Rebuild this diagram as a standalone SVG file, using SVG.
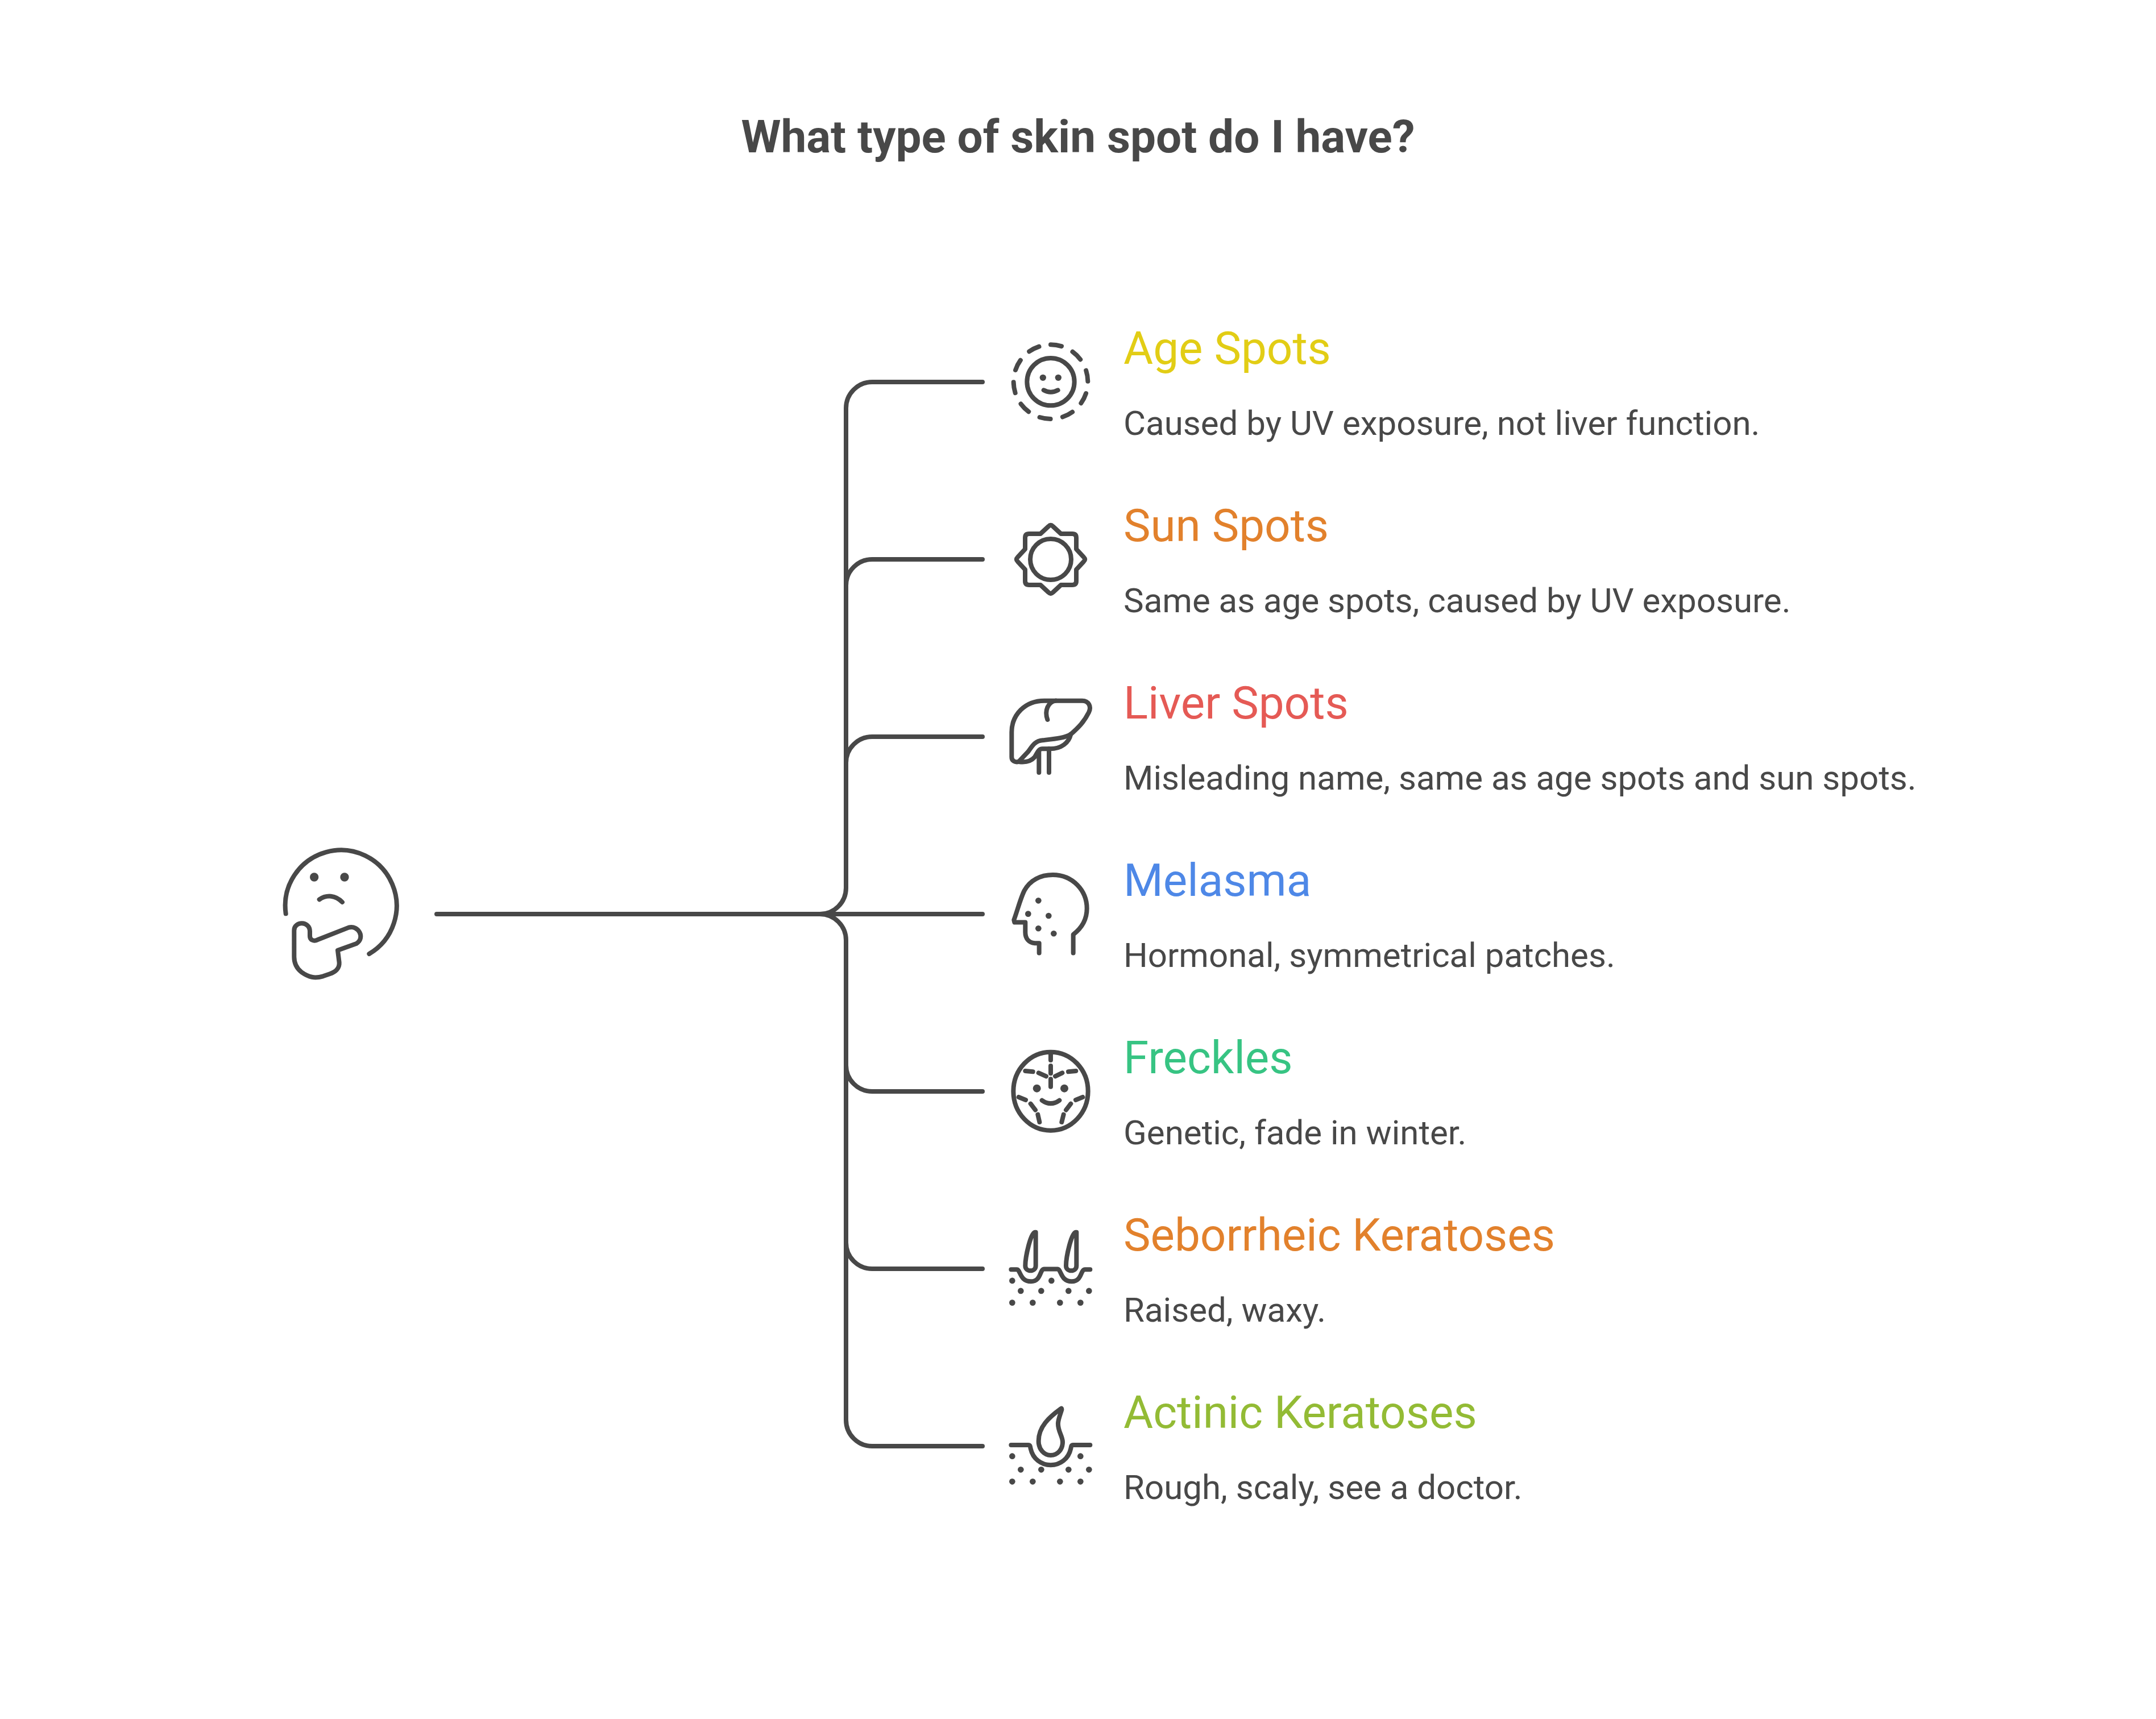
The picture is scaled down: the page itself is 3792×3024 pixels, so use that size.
<svg xmlns="http://www.w3.org/2000/svg" width="3792" height="3024" viewBox="0 0 3792 3024">
<style>
text{font-family:Roboto,"Liberation Sans",sans-serif}
.t{font-size:80px;font-weight:700;fill:#484848}
.h{font-size:80px}
.d{font-size:60px;fill:#484848}
.l{fill:none;stroke:#484848;stroke-width:8;stroke-linecap:round;stroke-linejoin:round}
.i{fill:none;stroke:#484848;stroke-width:24;stroke-linecap:round;stroke-linejoin:round}
.i .f{fill:#484848;stroke:none}
</style>
<rect width="3792" height="3024" fill="#fff"/>
<text class="t" x="1896" y="268" text-anchor="middle">What type of skin spot do I have?</text>
<g id="connectors"><path class="l" d="M768 1608H1442A46 46 0 0 0 1488 1562V718A46 46 0 0 1 1534 672H1728M1488 1030A46 46 0 0 1 1534 984H1728M1488 1342A46 46 0 0 1 1534 1296H1728M1442 1608H1728M1442 1608A46 46 0 0 1 1488 1654V2498A46 46 0 0 0 1534 2544H1728M1488 1874A46 46 0 0 0 1534 1920H1728M1488 2186A46 46 0 0 0 1534 2232H1728"/></g>
<g id="root" class="i" transform="translate(440 1440) scale(.3333)"><path d="M188 502A294 294 0 1 1 628 714"/><circle class="f" cx="338" cy="309" r="23"/><circle class="f" cx="498" cy="309" r="23"/><path d="M365 427C405 400 450 405 486 441"/><path d="M232 590C232 540 315 540 315 595V620C315 640 335 650 355 640L520 575C570 560 610 630 560 660L462 695L470 760C472 790 450 810 420 820L385 832C340 845 310 838 270 810C245 790 232 765 232 730Z"/></g>
<g id="age-spots"><g class="i" transform="translate(1720 570) scale(.3333)"><circle cx="384" cy="305" r="125"/><circle cx="384" cy="305" r="196" transform="rotate(-90 384 305)" stroke-dasharray="58 65.2"/><circle class="f" cx="343" cy="283" r="17"/><circle class="f" cx="424" cy="283" r="17"/><path d="M347 349Q384 370 422 349"/></g>
<text class="h" x="1976" y="640" fill="#e2cd15">Age Spots</text><text class="d" x="1976" y="765">Caused by UV exposure, not liver function.</text></g>
<g id="sun-spots"><g class="i" transform="translate(1848 984) scale(.3333)"><circle r="108"/><path d="M-54 -135L-12 -174Q0 -186 12 -174L54 -135H114Q135 -135 135 -114V-54L174 -12Q186 0 174 12L135 54V114Q135 135 114 135H54L12 174Q0 186 -12 174L-54 135H-114Q-135 135 -135 114V54L-174 12Q-186 0 -174 -12L-135 -54V-114Q-135 -135 -114 -135Z"/></g>
<text class="h" x="1976" y="952" fill="#e2812c">Sun Spots</text><text class="d" x="1976" y="1077">Same as age spots, caused by UV exposure.</text></g>
<g id="liver-spots"><g class="i" transform="translate(1720 1190) scale(.3333)"><path d="M350 128H550C585 128 600 160 585 190C560 240 530 270 490 305C460 325 400 330 340 337C300 340 285 370 265 397L215 450C195 455 178 445 178 425V295C178 200 250 128 350 128Z"/><path d="M490 305C480 350 440 382 380 382H340C320 382 315 400 300 425C280 448 250 455 215 450"/><path d="M410 128C370 135 350 180 367 228"/><path d="M322 395V507M375 382V507"/></g>
<text class="h" x="1976" y="1264" fill="#e55a55">Liver Spots</text><text class="d" x="1976" y="1389">Misleading name, same as age spots and sun spots.</text></g>
<g id="melasma"><g class="i" transform="translate(1720 1190) scale(.3333)"><path d="M323 1460V1408H300C270 1405 250 1385 250 1350V1298H193L190 1285C210 1230 225 1170 245 1130C275 1075 330 1047 395 1047C500 1047 575 1130 575 1225C575 1285 545 1330 503 1362V1460"/><circle class="f" cx="319" cy="1183" r="16"/><circle class="f" cx="265" cy="1253" r="16"/><circle class="f" cx="373" cy="1263" r="16"/><circle class="f" cx="319" cy="1330" r="16"/><circle class="f" cx="400" cy="1357" r="16"/></g>
<text class="h" x="1976" y="1576" fill="#4e88e7">Melasma</text><text class="d" x="1976" y="1701">Hormonal, symmetrical patches.</text></g>
<g id="freckles"><g class="i" transform="translate(1720 1810) scale(.3333)"><ellipse cx="384" cy="329" rx="197" ry="207"/><path d="M384 125V165M384 195V235M384 265V305M250 222L290 226M320 232L360 250M408 250L445 232M477 226L517 222M338 377Q384 410 430 377M215 360L252 375M278 395L303 428M316 452L325 492M553 360L516 375M490 395L465 428M452 452L442 492"/><circle class="f" cx="311" cy="314" r="21"/><circle class="f" cx="456" cy="314" r="21"/></g>
<text class="h" x="1976" y="1888" fill="#37c483">Freckles</text><text class="d" x="1976" y="2013">Genetic, fade in winter.</text></g>
<g id="seborrheic-keratoses"><g class="i" transform="translate(1720 1810) scale(.3333)"><path d="M175 1270H205C225 1270 220 1333 280 1333C335 1333 325 1268 350 1268H420C440 1268 435 1333 495 1333C550 1333 540 1270 565 1270H592"/><path d="M300 1073C280 1073 250 1200 250 1250C250 1285 305 1285 305 1250V1073Z"/><path d="M515 1073C495 1073 465 1200 465 1250C465 1285 520 1285 520 1250V1073Z"/><g class="f"><circle cx="181" cy="1329" r="16"/><circle cx="388" cy="1329" r="16"/><circle cx="226" cy="1383" r="16"/><circle cx="334" cy="1383" r="16"/><circle cx="478" cy="1383" r="16"/><circle cx="586" cy="1383" r="16"/><circle cx="181" cy="1445" r="16"/><circle cx="289" cy="1445" r="16"/><circle cx="433" cy="1445" r="16"/><circle cx="541" cy="1445" r="16"/></g></g>
<text class="h" x="1976" y="2200" fill="#e2812c">Seborrheic Keratoses</text><text class="d" x="1976" y="2325">Raised, waxy.</text></g>
<g id="actinic-keratoses"><g class="i" transform="translate(1720 2420) scale(.3333)"><path d="M175 366H265C278 366 275 372 278 385C290 440 335 472 384 472C433 472 478 440 490 385C493 372 490 366 503 366H592"/><path d="M437 175C375 220 320 270 320 345C320 390 350 420 384 420C420 420 447 390 447 350C447 320 420 290 423 250C425 225 435 205 442 180Q443 170 437 175Z"/><g class="f"><circle cx="181" cy="425" r="16"/><circle cx="541" cy="425" r="16"/><circle cx="226" cy="496" r="16"/><circle cx="334" cy="496" r="16"/><circle cx="478" cy="496" r="16"/><circle cx="586" cy="496" r="16"/><circle cx="181" cy="559" r="16"/><circle cx="289" cy="559" r="16"/><circle cx="433" cy="559" r="16"/><circle cx="541" cy="559" r="16"/></g></g>
<text class="h" x="1976" y="2512" fill="#93bb35">Actinic Keratoses</text><text class="d" x="1976" y="2637">Rough, scaly, see a doctor.</text></g>
</svg>
